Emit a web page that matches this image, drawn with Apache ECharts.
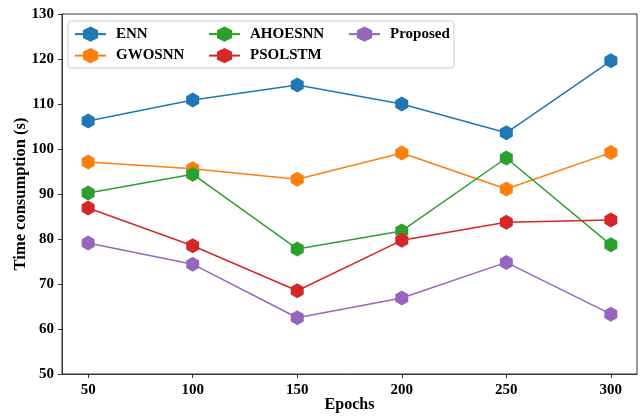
<!DOCTYPE html>
<html><head><meta charset="utf-8">
<script src="https://cdn.jsdelivr.net/npm/echarts@6/dist/echarts.min.js"></script>
<style>html,body{margin:0;padding:0;background:#fff}#c{width:640px;height:416px}</style>
</head><body><div id="c"></div>
<script>
const epochs = [50, 100, 150, 200, 250, 300];
const seriesNames = ['ENN', 'GWOSNN', 'AHOESNN', 'PSOLSTM', 'Proposed'];
const enn = [106.2, 110.9, 114.2, 110.0, 103.6, 119.6];
const gwosnn = [97.1, 95.6, 93.3, 99.1, 91.1, 99.2];
const ahoesnn = [90.2, 94.4, 77.8, 81.8, 98.0, 78.7];
const psolstm = [86.9, 78.5, 68.5, 79.7, 83.7, 84.2];
const proposed = [79.1, 74.4, 62.5, 66.9, 74.8, 63.3];
const yTicks = [50, 60, 70, 80, 90, 100, 110, 120, 130];
const colors = ['#1f77b4', '#ff7f0e', '#2ca02c', '#d62728', '#9467bd'];
const allData = [enn, gwosnn, ahoesnn, psolstm, proposed];

const hex = 'path://M0,-1 L0.866,-0.5 L0.866,0.5 L0,1 L-0.866,0.5 L-0.866,-0.5 Z';
const font = 'Liberation Serif';
const chart = echarts.init(document.getElementById('c'));

const legendPos = [[74, 26.5], [74, 48], [208, 26.5], [208, 48], [348, 26.5]];
const legends = seriesNames.map((n, i) => ({
  data: [n], left: legendPos[i][0], top: legendPos[i][1],
  itemWidth: 31, itemHeight: 19, itemGap: 0, padding: 0,
  textStyle: {fontFamily: font, fontWeight: 'bold', fontSize: 15, color: '#000', padding: [0,0,0,5]},
  selectedMode: false
}));

chart.setOption({
  animation: false,
  color: colors,
  grid: {left: 62, right: 3, top: 14, bottom: 42, show: true, borderColor: '#333', borderWidth: 1,
    containLabel: false, outerBoundsMode: 'none'},
  legend: legends,
  graphic: [{type: 'rect', shape: {x: 68, y: 21, width: 386, height: 47, r: 3},
    style: {fill: 'rgba(255,255,255,0.8)', stroke: '#ccc', lineWidth: 1}, z: 1}],
  xAxis: {
    type: 'value', min: 37.5, max: 312.5,
    name: 'Epochs', nameLocation: 'middle', nameGap: 23, nameMoveOverlap: false,
    nameTextStyle: {fontFamily: font, fontWeight: 'bold', fontSize: 16, color: '#000'},
    axisLine: {lineStyle: {color: '#333'}},
    axisTick: {show: true, customValues: epochs, length: 4, lineStyle: {color: '#333'}},
    axisLabel: {customValues: epochs, fontFamily: font, fontWeight: 'bold', fontSize: 15, color: '#000', margin: 9},
    splitLine: {show: false}
  },
  yAxis: {
    type: 'value', min: 50, max: 130, interval: 10,
    name: 'Time consumption (s)', nameLocation: 'middle', nameGap: 33, nameMoveOverlap: false,
    nameTextStyle: {fontFamily: font, fontWeight: 'bold', fontSize: 16.5, color: '#000'},
    axisLine: {show: true, lineStyle: {color: '#333'}},
    axisTick: {show: true, length: 4, lineStyle: {color: '#333'}},
    axisLabel: {fontFamily: font, fontWeight: 'bold', fontSize: 15, color: '#000', margin: 8},
    splitLine: {show: false}
  },
  series: seriesNames.map((n, i) => ({
    name: n, type: 'line',
    data: epochs.map((e, j) => [e, allData[i][j]]),
    symbol: hex, symbolSize: [13, 15],
    lineStyle: {width: 1.5, color: colors[i]},
    itemStyle: {color: colors[i]},
    z: 2 + i
  }))
});
</script></body></html>
